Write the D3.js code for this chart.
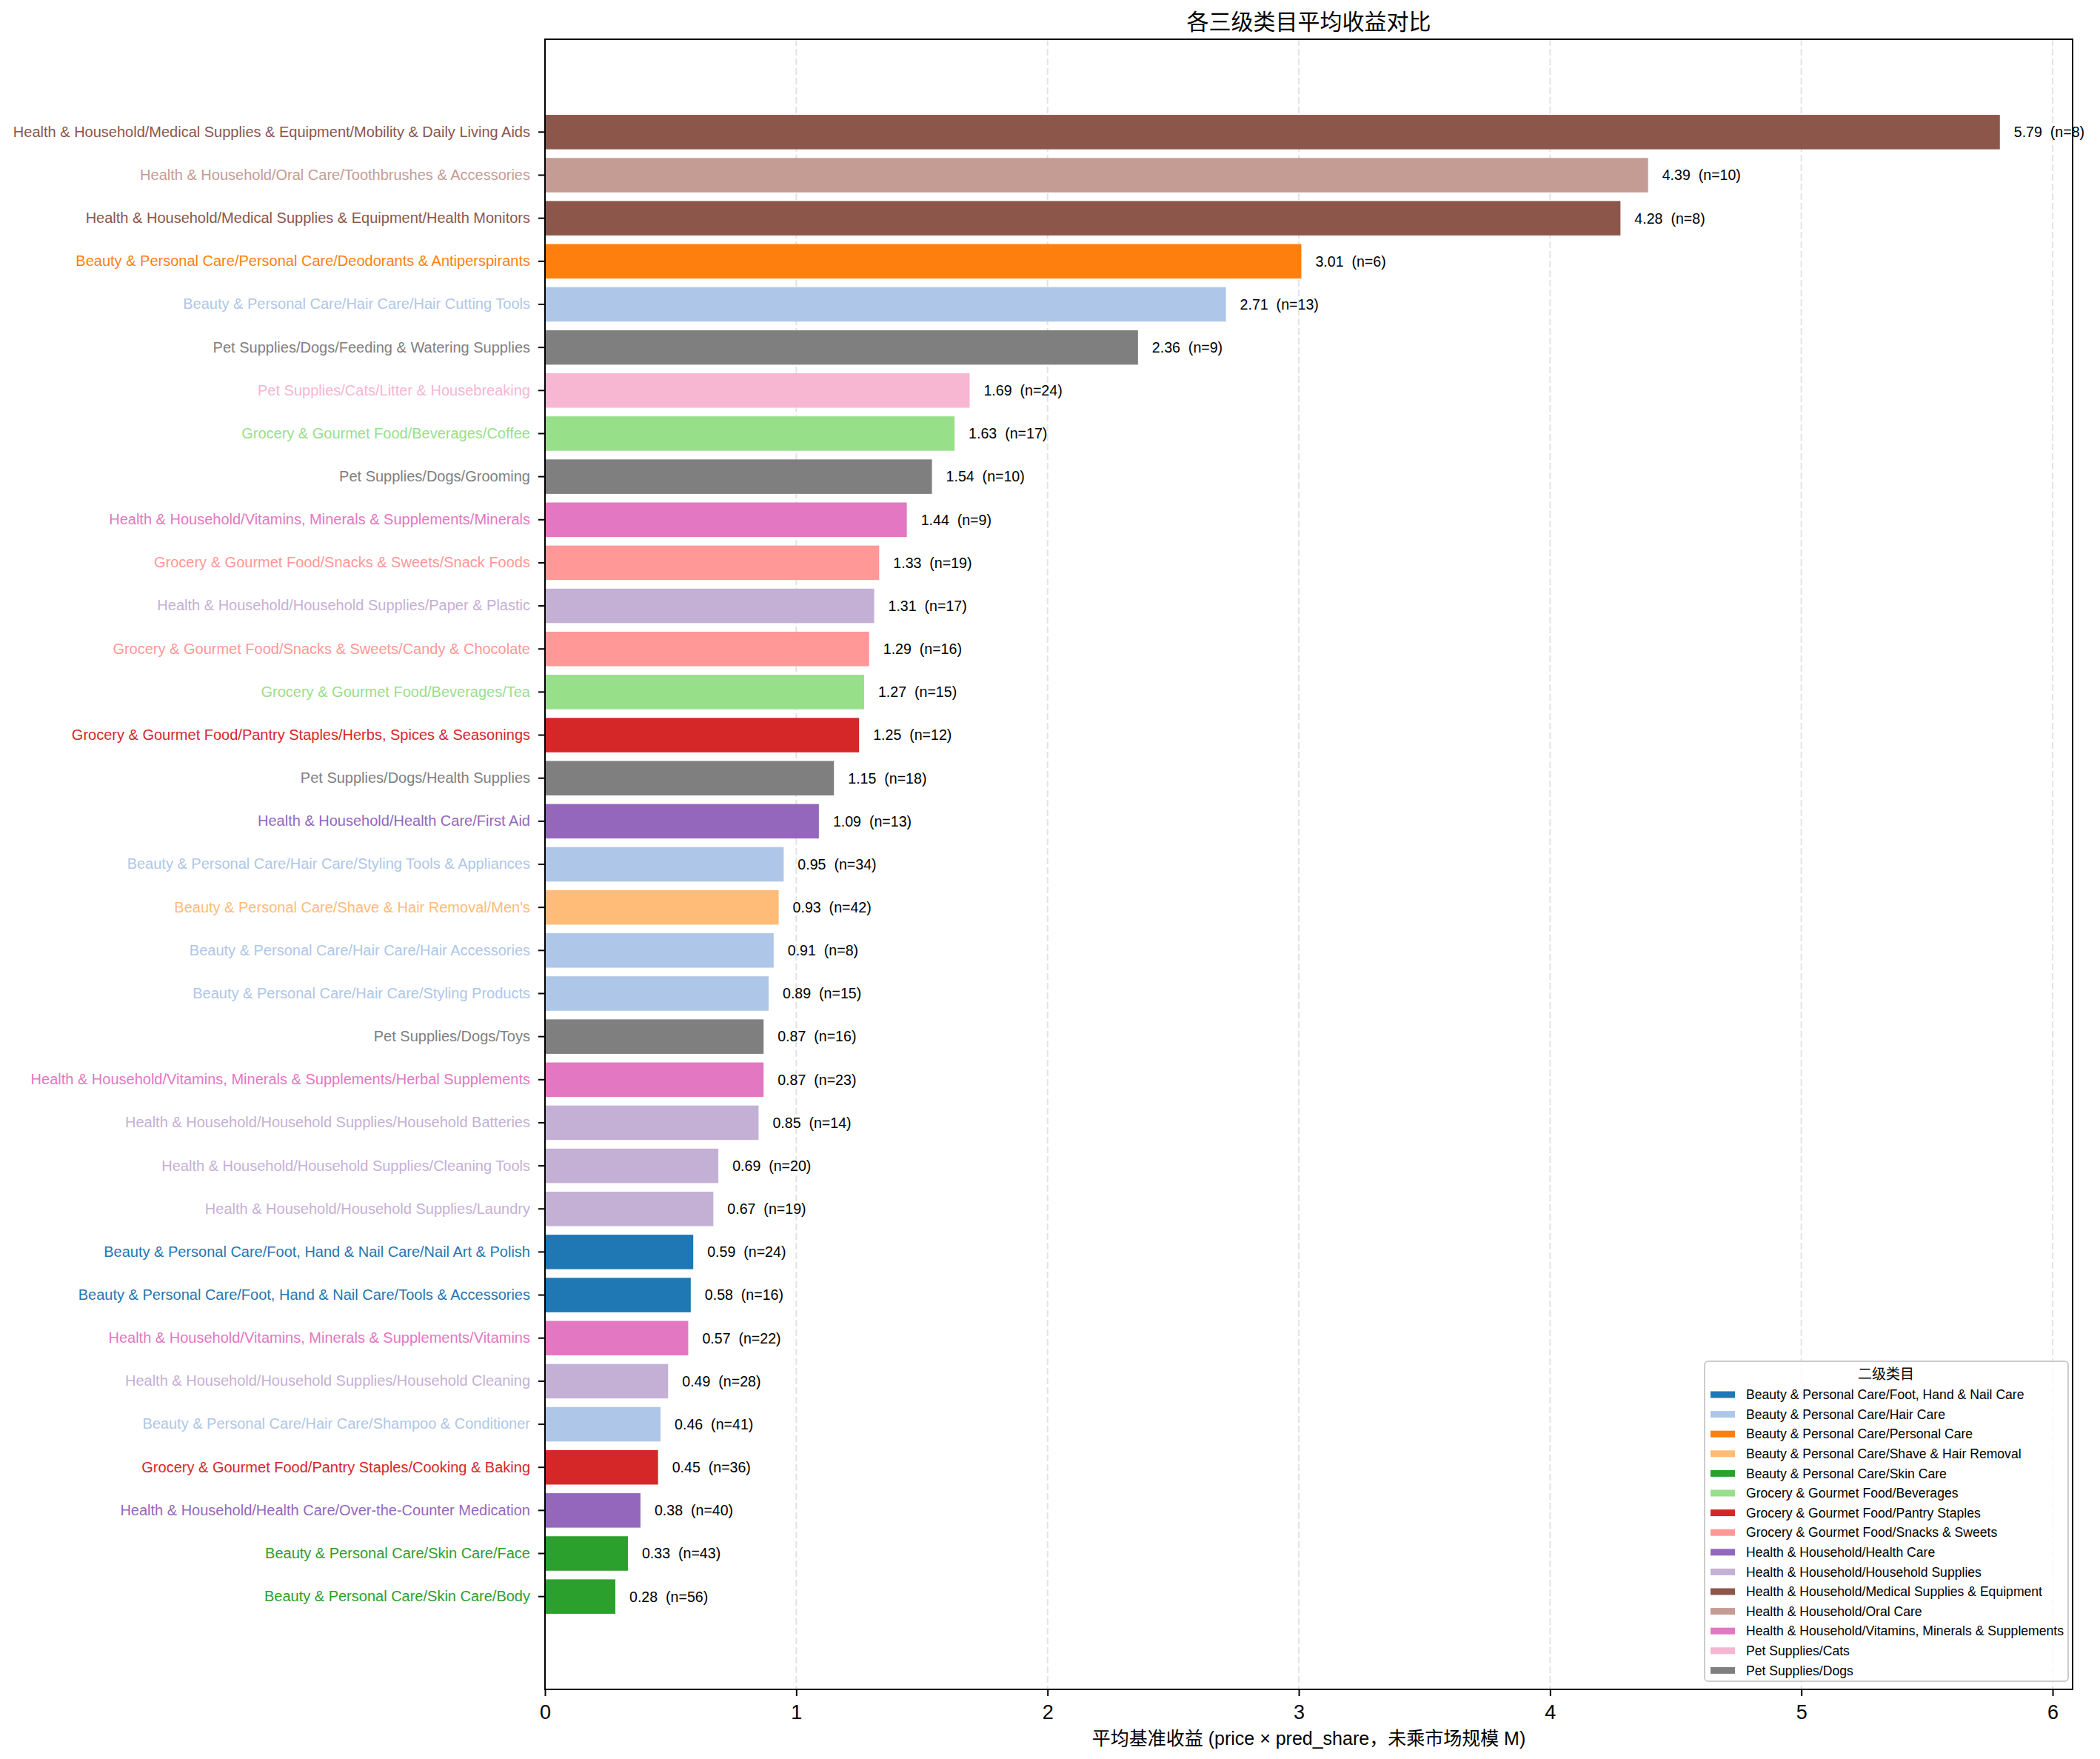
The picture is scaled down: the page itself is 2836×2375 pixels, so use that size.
<!DOCTYPE html>
<html>
<head>
<meta charset="utf-8">
<script src="https://cdn.jsdelivr.net/npm/d3@7"></script>
<style>
  body { margin: 0; background: #fff; }
  text { font-family: "Liberation Sans", Arial, "Noto Sans CJK SC", sans-serif; }
</style>
</head>
<body>
<div id="chart"></div>
<script>
// Third-level categories, top to bottom
const categories = [
  "Health & Household/Medical Supplies & Equipment/Mobility & Daily Living Aids",
  "Health & Household/Oral Care/Toothbrushes & Accessories",
  "Health & Household/Medical Supplies & Equipment/Health Monitors",
  "Beauty & Personal Care/Personal Care/Deodorants & Antiperspirants",
  "Beauty & Personal Care/Hair Care/Hair Cutting Tools",
  "Pet Supplies/Dogs/Feeding & Watering Supplies",
  "Pet Supplies/Cats/Litter & Housebreaking",
  "Grocery & Gourmet Food/Beverages/Coffee",
  "Pet Supplies/Dogs/Grooming",
  "Health & Household/Vitamins, Minerals & Supplements/Minerals",
  "Grocery & Gourmet Food/Snacks & Sweets/Snack Foods",
  "Health & Household/Household Supplies/Paper & Plastic",
  "Grocery & Gourmet Food/Snacks & Sweets/Candy & Chocolate",
  "Grocery & Gourmet Food/Beverages/Tea",
  "Grocery & Gourmet Food/Pantry Staples/Herbs, Spices & Seasonings",
  "Pet Supplies/Dogs/Health Supplies",
  "Health & Household/Health Care/First Aid",
  "Beauty & Personal Care/Hair Care/Styling Tools & Appliances",
  "Beauty & Personal Care/Shave & Hair Removal/Men's",
  "Beauty & Personal Care/Hair Care/Hair Accessories",
  "Beauty & Personal Care/Hair Care/Styling Products",
  "Pet Supplies/Dogs/Toys",
  "Health & Household/Vitamins, Minerals & Supplements/Herbal Supplements",
  "Health & Household/Household Supplies/Household Batteries",
  "Health & Household/Household Supplies/Cleaning Tools",
  "Health & Household/Household Supplies/Laundry",
  "Beauty & Personal Care/Foot, Hand & Nail Care/Nail Art & Polish",
  "Beauty & Personal Care/Foot, Hand & Nail Care/Tools & Accessories",
  "Health & Household/Vitamins, Minerals & Supplements/Vitamins",
  "Health & Household/Household Supplies/Household Cleaning",
  "Beauty & Personal Care/Hair Care/Shampoo & Conditioner",
  "Grocery & Gourmet Food/Pantry Staples/Cooking & Baking",
  "Health & Household/Health Care/Over-the-Counter Medication",
  "Beauty & Personal Care/Skin Care/Face",
  "Beauty & Personal Care/Skin Care/Body"
];

// Mean base revenue per category
const values = [5.79, 4.39, 4.28, 3.01, 2.71, 2.36, 1.69, 1.63, 1.54, 1.44,
  1.33, 1.31, 1.29, 1.27, 1.25, 1.15, 1.09, 0.95, 0.93, 0.91,
  0.89, 0.87, 0.87, 0.85, 0.69, 0.67, 0.59, 0.58, 0.57, 0.49,
  0.46, 0.45, 0.38, 0.33, 0.28];

// Sample counts
const counts = [8, 10, 8, 6, 13, 9, 24, 17, 10, 9,
  19, 17, 16, 15, 12, 18, 13, 34, 42, 8,
  15, 16, 23, 14, 20, 19, 24, 16, 22, 28,
  41, 36, 40, 43, 56];

// Second-level categories (legend order)
const groups = [
  "Beauty & Personal Care/Foot, Hand & Nail Care",
  "Beauty & Personal Care/Hair Care",
  "Beauty & Personal Care/Personal Care",
  "Beauty & Personal Care/Shave & Hair Removal",
  "Beauty & Personal Care/Skin Care",
  "Grocery & Gourmet Food/Beverages",
  "Grocery & Gourmet Food/Pantry Staples",
  "Grocery & Gourmet Food/Snacks & Sweets",
  "Health & Household/Health Care",
  "Health & Household/Household Supplies",
  "Health & Household/Medical Supplies & Equipment",
  "Health & Household/Oral Care",
  "Health & Household/Vitamins, Minerals & Supplements",
  "Pet Supplies/Cats",
  "Pet Supplies/Dogs"
];

const groupColors = ["#1f77b4", "#aec7e8", "#ff7f0e", "#ffbb78", "#2ca02c",
  "#98df8a", "#d62728", "#ff9896", "#9467bd", "#c5b0d5",
  "#8c564b", "#c49c94", "#e377c2", "#f7b6d2", "#7f7f7f"];

const xTicks = [0, 1, 2, 3, 4, 5, 6];

const data = categories.map((c, i) => ({
  name: c,
  value: values[i],
  n: counts[i],
  group: c.split("/").slice(0, 2).join("/")
}));

const W = 2836, H = 2375;
const plot = { left: 736, right: 2799, top: 53, bottom: 2281 };

const svg = d3.select("#chart").append("svg")
  .attr("width", W)
  .attr("height", H);

const color = d3.scaleOrdinal().domain(groups).range(groupColors);

const x = d3.scaleLinear()
  .domain([0, d3.max(values) * 1.05])
  .range([plot.left, plot.right]);

const y = d3.scaleBand()
  .domain(categories)
  .range([plot.top, plot.bottom])
  .paddingInner(0.2)
  .paddingOuter(1.755);

// grid
svg.append("g")
  .selectAll("line")
  .data(xTicks)
  .enter().append("line")
  .attr("x1", d => x(d)).attr("x2", d => x(d))
  .attr("y1", plot.top).attr("y2", plot.bottom)
  .attr("stroke", "#b0b0b0")
  .attr("stroke-opacity", 0.35)
  .attr("stroke-width", 2)
  .attr("stroke-dasharray", "9,4");

// bars
svg.append("g")
  .selectAll("rect")
  .data(data)
  .enter().append("rect")
  .attr("x", x(0))
  .attr("y", d => y(d.name))
  .attr("width", d => x(d.value) - x(0))
  .attr("height", y.bandwidth())
  .attr("fill", d => color(d.group));

// value labels
svg.append("g")
  .selectAll("text")
  .data(data)
  .enter().append("text")
  .attr("x", d => x(d.value) + 19)
  .attr("y", d => y(d.name) + y.bandwidth() / 2)
  .attr("dy", "0.35em")
  .style("font-size", "19.6px")
  .style("white-space", "pre")
  .text(d => d.value.toFixed(2) + "  (n=" + d.n + ")");

// x axis
const xAxis = svg.append("g")
  .attr("transform", "translate(0," + plot.bottom + ")")
  .call(d3.axisBottom(x).tickValues(xTicks).tickFormat(d3.format("d")).tickSize(9).tickPadding(12));
xAxis.select(".domain").remove();
xAxis.selectAll("line").attr("stroke", "#000").attr("stroke-width", 2);
xAxis.selectAll("text").style("font-size", "27px").attr("fill", "#000");

// y axis
const yAxis = svg.append("g")
  .attr("transform", "translate(" + plot.left + ",0)")
  .call(d3.axisLeft(y).tickSize(9).tickPadding(11));
yAxis.select(".domain").remove();
yAxis.selectAll("line").attr("stroke", "#000").attr("stroke-width", 2);
yAxis.selectAll("text")
  .style("font-size", "20px")
  .attr("fill", d => color(d.split("/").slice(0, 2).join("/")));

// frame
svg.append("rect")
  .attr("x", plot.left).attr("y", plot.top)
  .attr("width", plot.right - plot.left)
  .attr("height", plot.bottom - plot.top)
  .attr("fill", "none")
  .attr("stroke", "#000")
  .attr("stroke-width", 2);

// title + axis label
svg.append("text")
  .attr("x", (plot.left + plot.right) / 2)
  .attr("y", 40)
  .attr("text-anchor", "middle")
  .style("font-size", "30px")
  .text("各三级类目平均收益对比");

svg.append("text")
  .attr("x", (plot.left + plot.right) / 2)
  .attr("y", 2356)
  .attr("text-anchor", "middle")
  .style("font-size", "25px")
  .text("平均基准收益 (price × pred_share，未乘市场规模 M)");

// legend
const lg = svg.append("g").attr("transform", "translate(2302,1838)");
lg.append("rect")
  .attr("width", 491).attr("height", 432)
  .attr("rx", 5)
  .attr("fill", "#fff").attr("fill-opacity", 0.8)
  .attr("stroke", "#ccc").attr("stroke-width", 2);
lg.append("text")
  .attr("x", 245).attr("y", 17)
  .attr("dy", "0.35em")
  .attr("text-anchor", "middle")
  .style("font-size", "19px")
  .text("二级类目");
const item = lg.selectAll(".item")
  .data(groups)
  .enter().append("g")
  .attr("class", "item")
  .attr("transform", (d, i) => "translate(0," + (45 + i * 26.6) + ")");
item.append("rect")
  .attr("x", 8).attr("y", -4.5)
  .attr("width", 33).attr("height", 9)
  .attr("fill", d => color(d));
item.append("text")
  .attr("x", 56).attr("dy", "0.35em")
  .style("font-size", "17.6px")
  .text(d => d);
</script>
</body>
</html>
